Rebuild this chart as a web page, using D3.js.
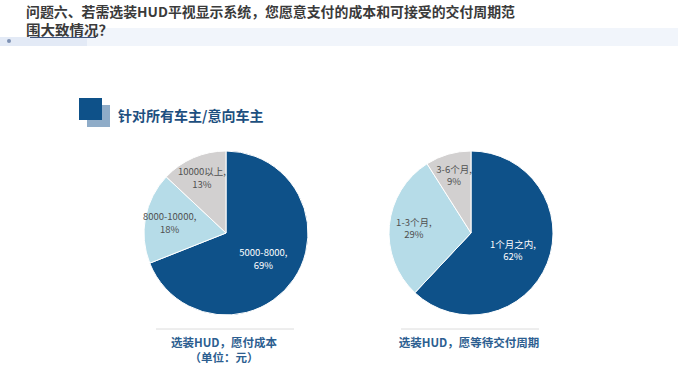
<!DOCTYPE html>
<html>
<head>
<meta charset="utf-8">
<script src="https://cdn.jsdelivr.net/npm/d3@7"></script>
<style>
  body { margin: 0; background: #fff; }
  svg { display: block; font-family: "Noto Sans CJK SC", "Noto Sans", sans-serif; }
</style>
</head>
<body>
<div id="canvas"></div>
<script>
const width = 678;
const height = 375;

const costLabels = ["5000-8000", "8000-10000", "10000以上"];
const costValues = [69, 18, 13];
const waitLabels = ["1个月之内", "1-3个月", "3-6个月"];
const waitValues = [62, 29, 9];
const captions = [["选装HUD，愿付成本", "（单位：元）"], ["选装HUD，愿等待交付周期"]];

const colors = ["#0e5189", "#b6dce8", "#d2d0d0"];
const labelColors = ["#ffffff", "#505050", "#505050"];
const labelFrac = [0.55, 0.7, 0.74];

const svg = d3.select("#canvas").append("svg")
  .attr("width", width)
  .attr("height", height);

// header band
svg.append("rect").attr("x", 60).attr("y", 28).attr("width", 618).attr("height", 18).attr("fill", "#f1f5fb");
svg.append("rect").attr("x", 0).attr("y", 37).attr("width", 87).attr("height", 9).attr("fill", "#e3eaf6");
svg.append("circle").attr("cx", 9).attr("cy", 41).attr("r", 2).attr("fill", "#7d90b3");

// title, two tight lines
svg.append("text")
  .attr("x", 26).attr("y", 16.5)
  .attr("font-size", 13.5).attr("font-weight", "bold").attr("fill", "#3a3a3a")
  .attr("textLength", 489).attr("lengthAdjust", "spacingAndGlyphs")
  .text("问题六、若需选装HUD平视显示系统，您愿意支付的成本和可接受的交付周期范");
svg.append("text")
  .attr("x", 26).attr("y", 35)
  .attr("font-size", 13.5).attr("font-weight", "bold").attr("fill", "#3a3a3a")
  .attr("textLength", 87).attr("lengthAdjust", "spacingAndGlyphs")
  .text("围大致情况？");
svg.append("line").attr("x1", 30).attr("x2", 96).attr("y1", 37.5).attr("y2", 37.5)
  .attr("stroke", "#3f5680").attr("stroke-width", 1);

// section marker
svg.append("rect").attr("x", 87).attr("y", 105).attr("width", 23).attr("height", 22).attr("fill", "#8facc8");
svg.append("rect").attr("x", 79).attr("y", 98).attr("width", 23).attr("height", 22).attr("fill", "#0e5189");
svg.append("text")
  .attr("x", 118).attr("y", 121)
  .attr("font-size", 14).attr("font-weight", "bold").attr("fill", "#1d4f80")
  .text("针对所有车主/意向车主");

const r = 82;
const centers = d3.scalePoint().domain([0, 1]).range([226, 471]);
const cy = 233;

const pie = d3.pie().sort(null).value(d => d.value);
const arc = d3.arc().innerRadius(0).outerRadius(r);

[[costLabels, costValues], [waitLabels, waitValues]].forEach(([labels, values], k) => {
  const data = labels.map((l, i) => ({ label: l, value: values[i], i }));
  const g = svg.append("g").attr("transform", `translate(${centers(k)},${cy})`);

  g.selectAll("path").data(pie(data)).enter().append("path")
    .attr("d", arc)
    .attr("fill", d => colors[d.data.i])
    .attr("stroke", "#ffffff")
    .attr("stroke-width", 1);

  const t = g.selectAll("text").data(pie(data)).enter().append("text")
    .attr("transform", d => {
      const lr = r * labelFrac[d.data.i];
      const c = d3.arc().innerRadius(lr).outerRadius(lr).centroid(d);
      return `translate(${c[0]},${c[1]})`;
    })
    .attr("text-anchor", "middle")
    .attr("font-size", 9.5)
    .attr("fill", d => labelColors[d.data.i]);
  t.append("tspan").attr("x", 0).attr("y", -2).text(d => d.data.label + ",");
  t.append("tspan").attr("x", 0).attr("y", 10.5).text(d => d.data.value + "%");

  svg.append("line")
    .attr("x1", centers(k) - 70).attr("x2", centers(k) + 68)
    .attr("y1", 329).attr("y2", 329)
    .attr("stroke", "#dcdcdc").attr("stroke-width", 1);

  captions[k].forEach((c, j) => {
    svg.append("text")
      .attr("x", centers(k) - 2).attr("y", 347 + j * 15)
      .attr("text-anchor", "middle")
      .attr("font-size", 11.5).attr("font-weight", "bold").attr("fill", "#2c5e90")
      .text(c);
  });
});
</script>
</body>
</html>
